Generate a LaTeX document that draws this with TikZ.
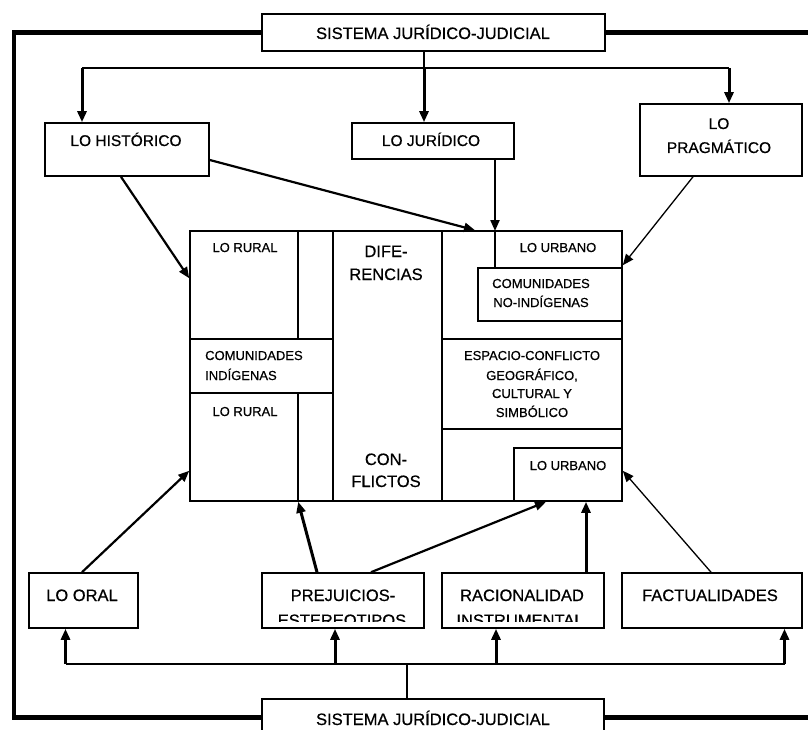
\documentclass[tikz,border=0pt]{standalone}
\usepackage{fontspec}
\setmainfont{Liberation Sans}[FakeBold=0.6]
\usetikzlibrary{arrows.meta}
\tikzset{
  box/.style={draw, line width=1.6pt, inner sep=0pt},
  lbl/.style={inner sep=0pt, anchor=base},
  lblw/.style={inner sep=0pt, anchor=base west},
  fA/.style={font=\fontsize{16.5}{19}\selectfont},
  fB/.style={font=\fontsize{15.5}{18}\selectfont},
  fC/.style={font=\fontsize{13}{15}\selectfont},
  line/.style={line width=1.6pt},
  frame/.style={line width=4.6pt},
  arr/.style={-{Triangle[length=11pt,width=9pt]}, line width=3pt},
  marr/.style={-{Triangle[length=11pt,width=9pt]}, line width=2.2pt},
  tarr/.style={-{Triangle[length=11pt,width=9pt]}, line width=1.3pt}
}
\begin{document}
\begin{tikzpicture}[x=1pt,y=-1pt]
\useasboundingbox (0,0) rectangle (808,730);
\fill[white] (0,0) rectangle (808,730);

% boxes
\node[box, minimum width=343pt, minimum height=37pt] (top) at (433.5,32.5) {};
\node[box, minimum width=164pt, minimum height=53pt] (hist) at (127,149.5) {};
\node[box, minimum width=162pt, minimum height=36pt] (jur) at (433,141) {};
\node[box, minimum width=162pt, minimum height=72pt] (prag) at (721,140) {};
\node[box, minimum width=432pt, minimum height=270pt] (cen) at (406,366) {};
\node[box, minimum width=144pt, minimum height=53pt] (nonind) at (550,294.5) {};
\node[box, minimum width=108pt, minimum height=53pt] (urb2) at (568,474.5) {};
\node[box, minimum width=109pt, minimum height=55pt] (oral) at (83.5,600.5) {};
\node[box, minimum width=162pt, minimum height=55pt] (prej) at (343,600.5) {};
\node[box, minimum width=162pt, minimum height=55pt] (rac) at (523,600.5) {};
\node[box, minimum width=180pt, minimum height=55pt] (fact) at (712,600.5) {};
\node[box, minimum width=342pt, minimum height=37pt] (bot) at (433,717.5) {};

% inner partition of the central box
\draw[line] (298,231) -- (298,339);
\draw[line] (298,393) -- (298,501);
\draw[line] (333,231) -- (333,501);
\draw[line] (190,339) -- (333,339);
\draw[line] (190,393) -- (333,393);
\draw[line] (442,231) -- (442,501);
\draw[line] (442,339) -- (622,339);
\draw[line] (442,429) -- (622,429);

% outer frame
\coordinate (frL1) at (14,32.5);
\coordinate (frL2) at (14,717.5);
\coordinate (frR1) at (815,32.5);
\coordinate (frR2) at (815,717.5);
\draw[frame] (top.west) -- (frL1) -- (frL2) -- (bot.west);
\draw[frame] (top.east) -- (frR1);
\draw[frame] (bot.east) -- (frR2);

% top distribution
\coordinate (j0) at (424,68);
\coordinate (jl) at (82,68);
\coordinate (jr) at (729,68);
\draw[line] (top.south -| j0) -- (j0);
\draw[line] (jl) -- (jr);
\draw[arr] (jl) -- (jl |- hist.north);
\draw[arr] (j0) -- (j0 |- jur.north);
\draw[arr] (jr) -- (jr |- prag.north);

% arrows from the upper boxes into the central box
\coordinate (jtip) at (495,231);
\draw[marr] ([xshift=-6pt]hist.south) -- ([yshift=-48pt]cen.north west);
\draw[marr] ([yshift=-10.5pt]hist.east) -- ([xshift=69pt]cen.north);
\draw[marr] (jur.south -| jtip) -- (jtip);
\draw[line] (jtip) -- (jtip |- nonind.north);
\draw[tarr] ([xshift=-28pt]prag.south) -- ([yshift=-35pt]cen.north east);

% arrows from the lower boxes into the central box
\draw[marr] ([xshift=-1.5pt]oral.north) -- ([yshift=31pt]cen.south west);
\draw[arr] ([xshift=-26pt]prej.north) -- ([xshift=109pt]cen.south west);
\draw[marr] ([xshift=28pt]prej.north) -- ([xshift=140pt]cen.south);
\draw[arr] ([xshift=63pt]rac.north) -- ([xshift=63pt]rac.north |- cen.south);
\draw[tarr] ([xshift=-1pt]fact.north) -- ([yshift=31pt]cen.south east);

% bottom distribution
\coordinate (b0) at (407,664);
\coordinate (bl) at (65.5,664);
\coordinate (bp) at (335,664);
\coordinate (br0) at (496,664);
\coordinate (br) at (784.5,664);
\draw[line] (b0) -- (b0 |- bot.north);
\draw[line] (bl) -- (br);
\draw[arr] (bl) -- (bl |- oral.south);
\draw[arr] (bp) -- (bp |- prej.south);
\draw[arr] (br0) -- (br0 |- rac.south);
\draw[arr] (br) -- (br |- fact.south);

% labels
\node[lbl,fA] (topT) at (433,39) {SISTEMA JURÍDICO-JUDICIAL};
\node[lbl,fB] (histT) at (126,146) {LO HISTÓRICO};
\node[lbl,fB] (jurT) at (431,146) {LO JURÍDICO};
\node[lbl,fB] (pragT1) at (719,129) {LO};
\node[lbl,fB] (pragT2) at (719,153) {PRAGMÁTICO};

\node[lbl,fC] (rur1) at (245,252) {LO RURAL};
\node[lbl,fC] (rur2) at (245,416) {LO RURAL};
\node[lblw,fC] (ind1) at (205,360) {COMUNIDADES};
\node[lblw,fC] (ind2) at (205,380) {INDÍGENAS};
\node[lbl,fA] (dif1) at (386,257) {DIFE-};
\node[lbl,fA] (dif2) at (386,280) {RENCIAS};
\node[lbl,fA] (con1) at (386,465) {CON-};
\node[lbl,fA] (con2) at (386,487) {FLICTOS};
\node[lbl,fC] (urb1T) at (558,252) {LO URBANO};
\node[lbl,fC] (non1) at (541,288) {COMUNIDADES};
\node[lbl,fC] (non2) at (541,307) {NO-INDÍGENAS};
\node[lbl,fC] (esp1) at (532,360) {ESPACIO-CONFLICTO};
\node[lbl,fC] (esp2) at (532,380) {GEOGRÁFICO,};
\node[lbl,fC] (esp3) at (532,398) {CULTURAL Y};
\node[lbl,fC] (esp4) at (532,417) {SIMBÓLICO};
\node[lbl,fC] (urb2T) at (568,470) {LO URBANO};

\node[lbl,fA] (oralT) at (82,601) {LO ORAL};
\node[lbl,fA] (prejT1) at (343,601) {PREJUICIOS-};
\node[lbl,fA] (racT1) at (522,601) {RACIONALIDAD};
\node[lbl,fA] (factT) at (710,601) {FACTUALIDADES};
\begin{scope}
  \clip (262,605) rectangle (604,621);
  \node[lbl,fA] (prejT2) at (342,626) {ESTEREOTIPOS};
  \node[lbl,fA] (racT2) at (520,626) {INSTRUMENTAL};
\end{scope}
\node[lbl,fA] (botT) at (433,725) {SISTEMA JURÍDICO-JUDICIAL};
\end{tikzpicture}
\end{document}
